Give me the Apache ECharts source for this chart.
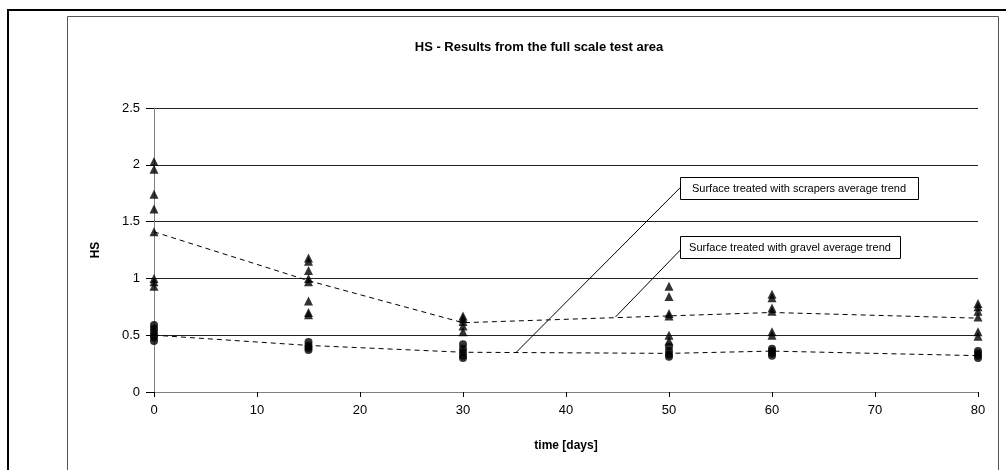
<!DOCTYPE html>
<html>
<head>
<meta charset="utf-8">
<title>HS - Results from the full scale test area</title>
<script src="https://cdn.jsdelivr.net/npm/echarts@6/dist/echarts.min.js"></script>
<style>
    html, body { margin: 0; padding: 0; background: #fff; }
    #chart { width: 1006px; height: 470px; }
</style>
</head>
<body>
<div id="chart"></div>
<script>
    // measurement days
    var days = [0, 15, 30, 50, 60, 80];

    // triangles - surface treated with gravel
    var gravelHS = [
        [2.03, 1.96, 1.74, 1.61, 1.41, 1.0, 0.97, 0.93],
        [1.18, 1.15, 1.07, 1.0, 0.97, 0.8, 0.7, 0.68],
        [0.67, 0.65, 0.62, 0.58, 0.53],
        [0.93, 0.84, 0.69, 0.67, 0.5, 0.45],
        [0.86, 0.83, 0.74, 0.71, 0.53, 0.5],
        [0.78, 0.75, 0.71, 0.66, 0.53, 0.49]
    ];
    // circles - surface treated with scrapers
    var scrapersHS = [
        [0.59, 0.56, 0.53, 0.5, 0.48, 0.45],
        [0.44, 0.41, 0.39, 0.37],
        [0.42, 0.38, 0.35, 0.32, 0.30],
        [0.40, 0.36, 0.33, 0.31],
        [0.38, 0.36, 0.34, 0.32],
        [0.36, 0.34, 0.32, 0.30]
    ];
    // average trends
    var gravelTrend = [1.41, 0.98, 0.61, 0.67, 0.70, 0.65];
    var scrapersTrend = [0.50, 0.41, 0.35, 0.34, 0.36, 0.32];

    var yTicks = [0, 0.5, 1, 1.5, 2, 2.5];

    function toPoints(values) {
        var out = [];
        for (var i = 0; i < days.length; i++) {
            for (var j = 0; j < values[i].length; j++) {
                out.push([days[i], values[i][j]]);
            }
        }
        return out;
    }
    function toLine(values) {
        var out = [];
        for (var i = 0; i < days.length; i++) {
            out.push([days[i], values[i]]);
        }
        return out;
    }

    var font = '"Liberation Sans", Arial, sans-serif';
    var chart = echarts.init(document.getElementById('chart'));

    var option = {
        animation: false,
        backgroundColor: '#fff',
        textStyle: { fontFamily: font },
        title: {
            text: 'HS - Results from the full scale test area',
            left: 534,
            textAlign: 'center',
            top: 36,
            textStyle: { fontFamily: font, fontSize: 13, fontWeight: 'bold', color: '#000' }
        },
        grid: { left: 154, right: 28, top: 108, bottom: 78 },
        xAxis: {
            type: 'value',
            min: 0,
            max: 80,
            interval: 10,
            name: 'time [days]',
            nameLocation: 'middle',
            nameGap: 48,
            nameTextStyle: { fontFamily: font, fontSize: 12, fontWeight: 'bold', color: '#000' },
            axisLine: { lineStyle: { color: '#808080', width: 1 } },
            axisTick: { show: true, length: 5, lineStyle: { color: '#000' } },
            axisLabel: { fontFamily: font, fontSize: 13, color: '#000', margin: 12 },
            splitLine: { show: false }
        },
        yAxis: {
            type: 'value',
            min: 0,
            max: 2.5,
            interval: 0.5,
            name: 'HS',
            nameLocation: 'middle',
            nameGap: 52,
            nameTextStyle: { fontFamily: font, fontSize: 12, fontWeight: 'bold', color: '#000' },
            axisLine: { show: true, lineStyle: { color: '#808080', width: 1 } },
            axisTick: { show: true, length: 8, lineStyle: { color: '#000' } },
            axisLabel: { fontFamily: font, fontSize: 13, color: '#000', margin: 14,
                formatter: function (v) { return yTicks.indexOf(v) >= 0 ? String(v) : ''; } },
            splitLine: { show: true, lineStyle: { color: '#222', width: 1 } }
        },
        series: [
            {
                name: 'gravel trend',
                type: 'line',
                data: toLine(gravelTrend),
                symbol: 'none',
                lineStyle: { color: '#000', width: 1, type: [5, 4] },
                z: 2
            },
            {
                name: 'scrapers trend',
                type: 'line',
                data: toLine(scrapersTrend),
                symbol: 'none',
                lineStyle: { color: '#000', width: 1, type: [5, 4] },
                z: 2,
                markLine: {
                    silent: true,
                    symbol: ['none', 'none'],
                    label: { show: false },
                    lineStyle: { color: '#000', width: 1, type: 'solid' },
                    data: [
                        [{ coord: [35.2, 0.352] }, { coord: [51.1, 1.80] }],
                        [{ coord: [44.8, 0.66] }, { coord: [51.1, 1.25] }]
                    ]
                }
            },
            {
                name: 'gravel',
                type: 'scatter',
                data: toPoints(gravelHS),
                symbol: 'triangle',
                symbolSize: [9, 9],
                itemStyle: { color: '#000' },
                z: 3
            },
            {
                name: 'scrapers',
                type: 'scatter',
                data: toPoints(scrapersHS),
                symbol: 'circle',
                symbolSize: [8, 8],
                itemStyle: { color: '#000' },
                z: 3
            }
        ],
        graphic: [
            // outer frame
            { type: 'line', shape: { x1: 7, y1: 10, x2: 1006, y2: 10 }, style: { stroke: '#000', lineWidth: 2 } },
            { type: 'line', shape: { x1: 8, y1: 9, x2: 8, y2: 470 }, style: { stroke: '#000', lineWidth: 2 } },
            // inner chart area frame
            { type: 'rect', shape: { x: 67.5, y: 16.5, width: 931, height: 470 },
              style: { fill: 'none', stroke: '#555', lineWidth: 1 }, z: -1 },
            // annotation boxes
            { type: 'rect', shape: { x: 680.5, y: 177.5, width: 238, height: 22 },
              style: { fill: '#fff', stroke: '#000', lineWidth: 1 }, z: 10 },
            { type: 'text', x: 799, y: 188.5, z: 11,
              style: { text: 'Surface treated with scrapers average trend', fontFamily: font, fontSize: 11,
                       fill: '#000', align: 'center', verticalAlign: 'middle' } },
            { type: 'rect', shape: { x: 680.5, y: 236.5, width: 220, height: 22 },
              style: { fill: '#fff', stroke: '#000', lineWidth: 1 }, z: 10 },
            { type: 'text', x: 790, y: 247.5, z: 11,
              style: { text: 'Surface treated with gravel average trend', fontFamily: font, fontSize: 11,
                       fill: '#000', align: 'center', verticalAlign: 'middle' } }
        ]
    };

    chart.setOption(option);
    window.onresize = function () { chart.resize(); };
</script>
</body>
</html>
